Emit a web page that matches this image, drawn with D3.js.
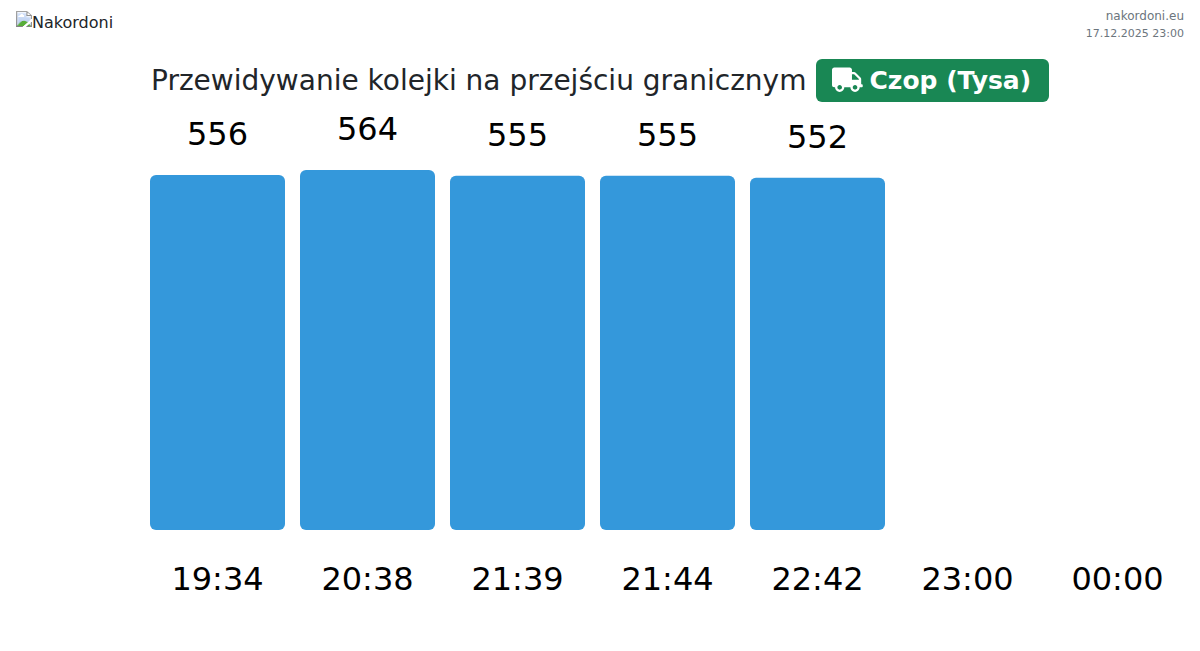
<!DOCTYPE html>
<html lang="pl">
<head>
<meta charset="utf-8">
<title>Nakordoni</title>
<script src="https://cdn.jsdelivr.net/npm/d3@7"></script>
<style>
  html, body { margin: 0; padding: 0; background: #fff; overflow: hidden; }
  body { font-family: "DejaVu Sans", sans-serif; color: #212529; width: 1200px; height: 651px; position: relative; }
  #logo { position: absolute; left: 16px; top: 11px; font-size: 16px; line-height: 24px; }
  #chart { position: absolute; left: 0; top: 0; }
</style>
</head>
<body>
<img id="logo" src="logo.png" alt="Nakordoni">
<svg id="chart"></svg>
<script>
var width = 1200;
var height = 651;

var times = ["19:34", "20:38", "21:39", "21:44", "22:42", "23:00", "00:00"];
var queue = [556, 564, 555, 555, 552, null, null];
var titleText = "Przewidywanie kolejki na przejściu granicznym";
var badgeText = "Czop (Tysa)";
var siteName = "nakordoni.eu";
var stamp = "17.12.2025 23:00";
var truckPath = "M624 352h-16V243.9c0-12.7-5.1-24.9-14.1-33.9L494 110.1c-9-9-21.2-14.1-33.9-14.1H416V48c0-26.5-21.5-48-48-48H48C21.5 0 0 21.5 0 48v320c0 26.5 21.5 48 48 48h16c0 53 43 96 96 96s96-43 96-96h128c0 53 43 96 96 96s96-43 96-96h48c8.8 0 16-7.2 16-16v-32c0-8.8-7.2-16-16-16zM160 464c-26.5 0-48-21.5-48-48s21.5-48 48-48 48 21.5 48 48-21.5 48-48 48zm320 0c-26.5 0-48-21.5-48-48s21.5-48 48-48 48 21.5 48 48-21.5 48-48 48zm80-208H416V144h44.1l99.9 99.9V256z";

var svg = d3.select("#chart")
    .attr("width", width)
    .attr("height", height);

var xScale = d3.scaleBand()
    .domain(times)
    .range([142.5, 1192.5])
    .paddingInner(0.1)
    .paddingOuter(0.05);

var yScale = d3.scaleLinear()
    .domain([0, 564])
    .range([530, 170]);

// header, top right
svg.append("text")
    .attr("x", 1184).attr("y", 20)
    .attr("text-anchor", "end")
    .attr("font-size", 12)
    .attr("fill", "#6c757d")
    .text(siteName);

svg.append("text")
    .attr("x", 1184).attr("y", 37)
    .attr("text-anchor", "end")
    .attr("font-size", 11)
    .attr("fill", "#6c757d")
    .text(stamp);

// title and badge
svg.append("text")
    .attr("x", 151).attr("y", 90)
    .attr("font-size", 28)
    .attr("fill", "#212529")
    .text(titleText);

svg.append("rect")
    .attr("x", 816).attr("y", 59)
    .attr("width", 233).attr("height", 43)
    .attr("rx", 6)
    .attr("fill", "#198754");

svg.append("path")
    .attr("d", truckPath)
    .attr("transform", "translate(832,67.4) scale(0.048)")
    .attr("fill", "#fff");

svg.append("text")
    .attr("x", 869.5).attr("y", 89)
    .attr("font-size", 25)
    .attr("font-weight", "bold")
    .attr("fill", "#fff")
    .text(badgeText);

// bars
var rows = times.map(function(t, i) {
  return { time: t, value: queue[i] };
}).filter(function(d) {
  return d.value !== null;
});

svg.selectAll("rect.bar")
    .data(rows)
    .enter()
    .append("rect")
    .attr("class", "bar")
    .attr("x", function(d) { return xScale(d.time); })
    .attr("y", function(d) { return yScale(d.value); })
    .attr("width", xScale.bandwidth())
    .attr("height", function(d) { return yScale(0) - yScale(d.value); })
    .attr("rx", 6)
    .attr("fill", "#3498db");

svg.selectAll("text.value")
    .data(rows)
    .enter()
    .append("text")
    .attr("class", "value")
    .attr("x", function(d) { return xScale(d.time) + xScale.bandwidth() / 2; })
    .attr("y", function(d) { return yScale(d.value) - 30; })
    .attr("text-anchor", "middle")
    .attr("font-size", 32)
    .attr("fill", "#000")
    .text(function(d) { return d.value; });

// time labels
var xAxis = svg.append("g")
    .attr("transform", "translate(0,530)")
    .call(d3.axisBottom(xScale).tickSize(0).tickPadding(37));

xAxis.select(".domain").remove();
xAxis.selectAll("text")
    .attr("font-family", "DejaVu Sans")
    .attr("font-size", 32)
    .attr("fill", "#000");
</script>
</body>
</html>
